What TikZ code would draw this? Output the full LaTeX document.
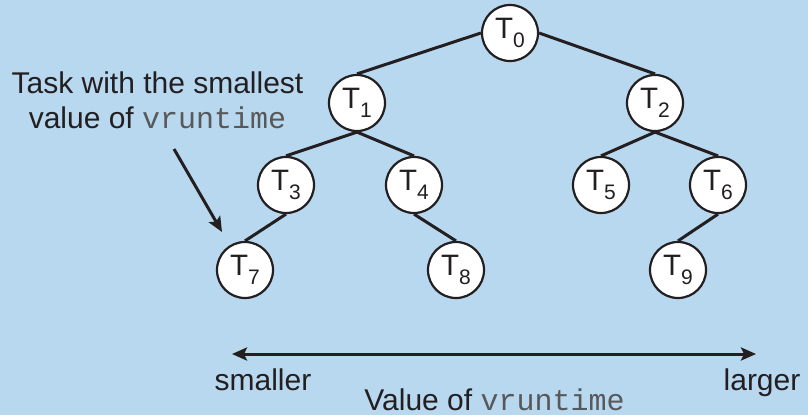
\documentclass[tikz,border=0pt]{standalone}
\usepackage{fontspec}
\setmainfont{Liberation Sans}
\setmonofont{Liberation Mono}
\usetikzlibrary{arrows.meta}
\definecolor{bg}{RGB}{184,216,240}
\definecolor{ink}{RGB}{35,31,32}
\definecolor{codegray}{RGB}{88,88,88}
\newcommand{\code}[1]{{\ttfamily\color{codegray}#1}}
\newcommand{\tsub}[1]{T\raisebox{-0.32em}{\fontsize{21}{21}\selectfont #1}}
\tikzset{
  >={Stealth[length=15pt,width=13pt,inset=3pt]},
  tnode/.style={circle, draw=ink, line width=2.2pt, fill=white, minimum size=56pt, inner sep=0pt, text=ink, font=\fontsize{29.5}{29.5}\selectfont},
  edge/.style={draw=ink, line width=3pt},
  lbl/.style={text=ink, font=\fontsize{30}{35}\selectfont, inner sep=0pt, anchor=base},
  arr/.style={draw=ink, line width=3pt}
}
\begin{document}
\begin{tikzpicture}[x=1pt,y=-1pt]
\fill[bg] (0,0) rectangle (808,415);
\useasboundingbox (0,0) rectangle (808,415);
\node[tnode] (t0) at (510,33) {\tsub{0}};
\node[tnode] (t1) at (357,103) {\tsub{1}};
\node[tnode] (t2) at (655,103) {\tsub{2}};
\node[tnode] (t3) at (286,185) {\tsub{3}};
\node[tnode] (t4) at (414,185) {\tsub{4}};
\node[tnode] (t5) at (601,185) {\tsub{5}};
\node[tnode] (t6) at (718,185) {\tsub{6}};
\node[tnode] (t7) at (245,270) {\tsub{7}};
\node[tnode] (t8) at (456,270) {\tsub{8}};
\node[tnode] (t9) at (678,270) {\tsub{9}};
\draw[edge] (t0.west) -- (t1.north);
\draw[edge] (t0.east) -- (t2.north);
\draw[edge] (t1.south) -- (t3.north);
\draw[edge] (t1.south) -- (t4.north);
\draw[edge] (t2.south) -- (t5.north);
\draw[edge] (t2.south) -- (t6.north);
\draw[edge] (t3.south) -- (t7.north);
\draw[edge] (t4.south) -- (t8.north);
\draw[edge] (t6.south) -- (t9.north);
\node[lbl] (task1) at (157.5,93) {Task with the smallest};
\node[lbl] (task2) at (157.5,128) {value of \code{vruntime}};
\coordinate (as) at (174,149);
\coordinate (ae) at (222,232);
\draw[arr, ->] (as) -- (ae);
\coordinate (left) at (232,354);
\coordinate (right) at (756,354);
\draw[arr, <->] (left) -- (right);
\node[lbl] (small) at (263,390) {smaller};
\node[lbl] (large) at (762,390) {larger};
\node[lbl] (value) at (494.5,410) {Value of \code{vruntime}};
\end{tikzpicture}
\end{document}
